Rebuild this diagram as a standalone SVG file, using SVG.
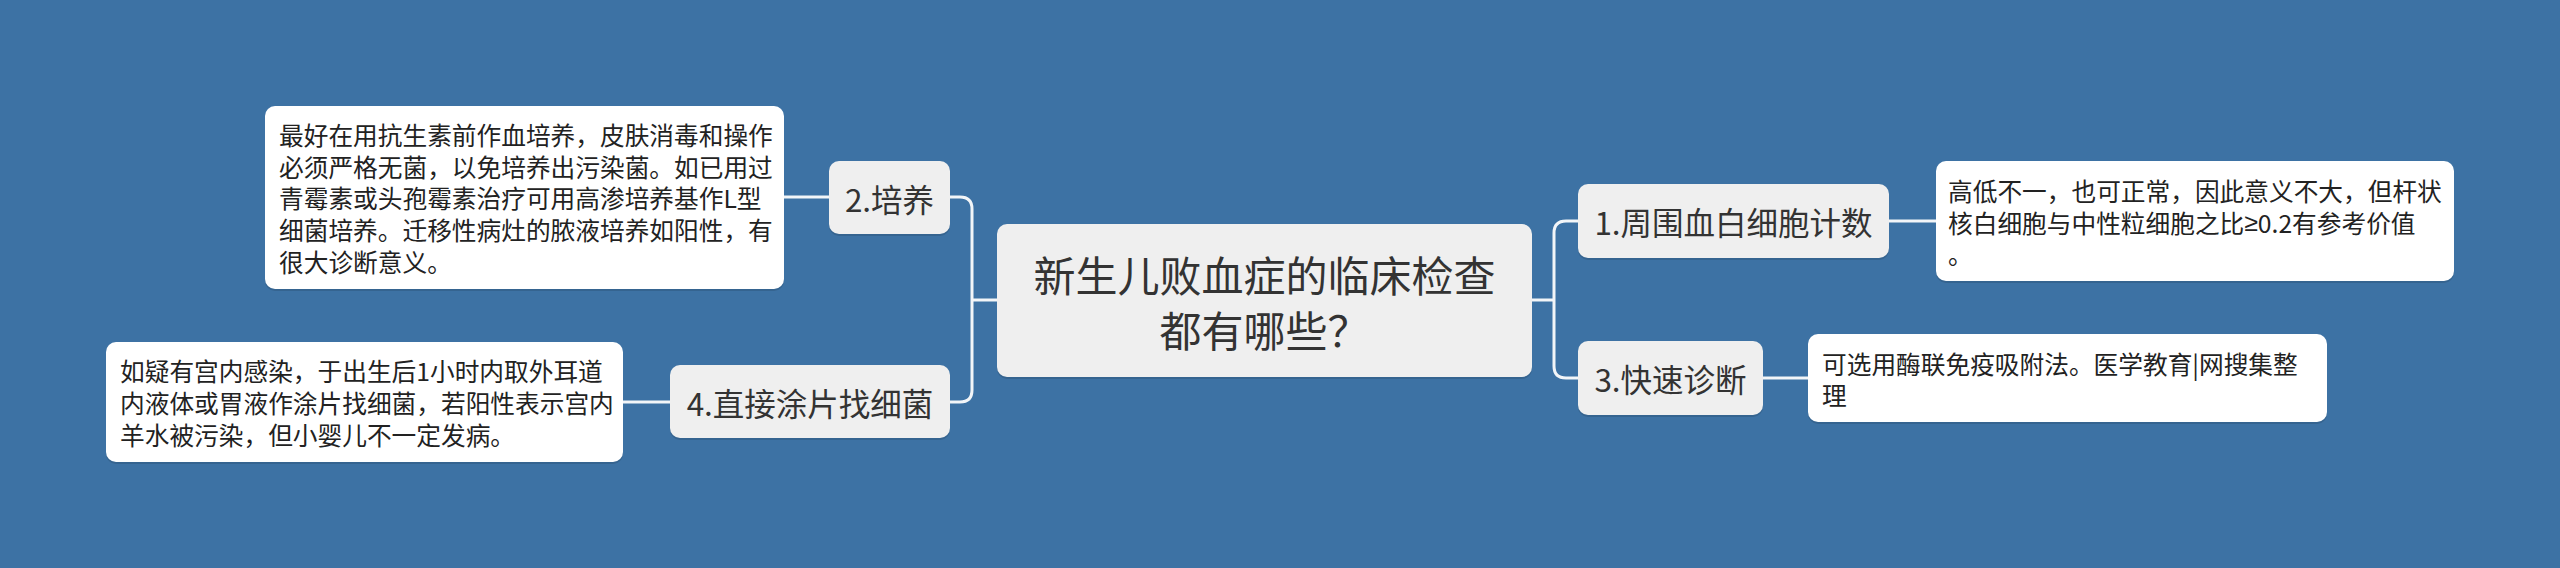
<svg xmlns="http://www.w3.org/2000/svg" width="2560" height="568" viewBox="0 0 2560 568">
<style>
.bg{fill:#3D72A4}
.main{fill:#EFEFEF}
.leaf{fill:#FFFFFF}
.sh{fill:#000000;opacity:0.12}
.ln{fill:none;stroke:#F2F5F8;stroke-width:3;stroke-linecap:round}
text{font-family:"Noto Sans CJK SC","Noto Sans",sans-serif;dominant-baseline:central}
.lat{font-family:"Liberation Sans","DejaVu Sans",sans-serif}
.t0{font-size:42px;fill:#333333;text-anchor:middle}
.t1{font-size:31.5px;fill:#333333;text-anchor:middle}
.t2{font-size:24.7px;fill:#222222}
</style>
<rect class="bg" x="0" y="0" width="2560" height="568"/>
<g id="connectors">
<path class="ln" d="M997 300 H972 M972 300 V209 Q972 197 960 197 H950 M972 300 V390 Q972 402 960 402 H950"/>
<path class="ln" d="M829 197 H784"/>
<path class="ln" d="M670 402 H623"/>
<path class="ln" d="M1532 300 H1554 M1554 300 V233 Q1554 221 1566 221 H1578 M1554 300 V366 Q1554 378 1566 378 H1578"/>
<path class="ln" d="M1889 221 H1936"/>
<path class="ln" d="M1763 378 H1808"/>
</g>
<g id="root">
<rect class="sh" x="997" y="226" width="535" height="153" rx="10"/>
<rect class="main" x="997" y="224" width="535" height="153" rx="10"/>
<text class="t0" x="1264.5" y="273">新生儿败血症的临床检查</text>
<text class="t0" x="1264.5" y="328">都有哪些？</text>
</g>
<g id="n2">
<rect class="sh" x="829" y="163" width="121" height="73" rx="10"/>
<rect class="main" x="829" y="161" width="121" height="73" rx="10"/>
<text class="t1" x="889.5" y="197.5">2.培养</text>
</g>
<g id="n2leaf">
<rect class="sh" x="265" y="108" width="519" height="183" rx="10"/>
<rect class="leaf" x="265" y="106" width="519" height="183" rx="10"/>
<text class="t2" x="279" y="134">最好在用抗生素前作血培养，皮肤消毒和操作</text>
<text class="t2" x="279" y="165.7">必须严格无菌，以免培养出污染菌。如已用过</text>
<text class="t2" x="279" y="197.4">青霉素或头孢霉素治疗可用高渗培养基作L型</text>
<text class="t2" x="279" y="229.1">细菌培养。迁移性病灶的脓液培养如阳性，有</text>
<text class="t2" x="279" y="260.8">很大诊断意义。</text>
</g>
<g id="n4">
<rect class="sh" x="670" y="367" width="280" height="73" rx="10"/>
<rect class="main" x="670" y="365" width="280" height="73" rx="10"/>
<text class="t1" x="810" y="401.5">4.直接涂片找细菌</text>
</g>
<g id="n4leaf">
<rect class="sh" x="106" y="344" width="517" height="120" rx="10"/>
<rect class="leaf" x="106" y="342" width="517" height="120" rx="10"/>
<text class="t2" x="120" y="370.3">如疑有宫内感染，于出生后1小时内取外耳道</text>
<text class="t2" x="120" y="402">内液体或胃液作涂片找细菌，若阳性表示宫内</text>
<text class="t2" x="120" y="433.7">羊水被污染，但小婴儿不一定发病。</text>
</g>
<g id="n1">
<rect class="sh" x="1578" y="186" width="311" height="74" rx="10"/>
<rect class="main" x="1578" y="184" width="311" height="74" rx="10"/>
<text class="t1" x="1733.5" y="221">1.周围血白细胞计数</text>
</g>
<g id="n1leaf">
<rect class="sh" x="1936" y="163" width="518" height="120" rx="10"/>
<rect class="leaf" x="1936" y="161" width="518" height="120" rx="10"/>
<text class="t2" x="1948" y="190">高低不一，也可正常，因此意义不大，但杆状</text>
<text class="t2" x="1948" y="221.7">核白细胞与中性粒细胞之比<tspan class="lat">≥</tspan>0.2有参考价值</text>
<text class="t2" x="1948" y="253.4">。</text>
</g>
<g id="n3">
<rect class="sh" x="1578" y="343" width="185" height="74" rx="10"/>
<rect class="main" x="1578" y="341" width="185" height="74" rx="10"/>
<text class="t1" x="1670.5" y="378">3.快速诊断</text>
</g>
<g id="n3leaf">
<rect class="sh" x="1808" y="336" width="519" height="88" rx="10"/>
<rect class="leaf" x="1808" y="334" width="519" height="88" rx="10"/>
<text class="t2" x="1822" y="362.5">可选用酶联免疫吸附法。医学教育|网搜集整</text>
<text class="t2" x="1822" y="394">理</text>
</g>
</svg>
